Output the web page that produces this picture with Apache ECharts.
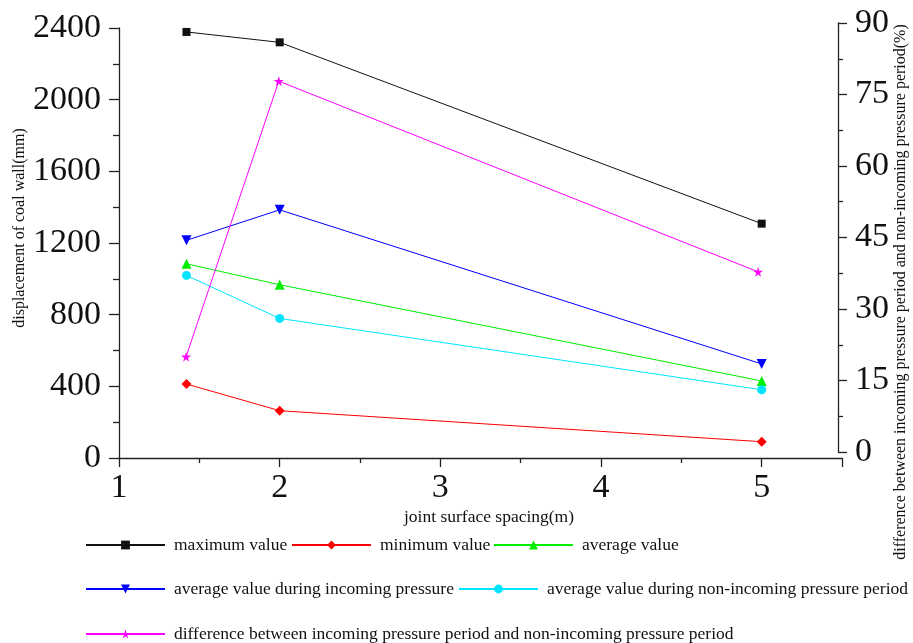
<!DOCTYPE html>
<html>
<head>
<meta charset="utf-8">
<script src="https://cdn.jsdelivr.net/npm/echarts@6/dist/echarts.min.js"></script>
<style>
html,body{margin:0;padding:0;background:#fff;}
#c{width:913px;height:643px;}
</style>
</head>
<body>
<div id="c"></div>
<script>
var spacing = [1.42, 2, 5];
var maxValue = [2378, 2320, 1308];
var minValue = [413, 264, 91];
var avgValue = [1084, 967, 430];
var avgIncoming = [1215, 1385, 525];
var avgNonIncoming = [1019, 779, 381];
var diffPercent = [20.0, 77.8, 37.8];
var xTicks = [1, 2, 3, 4, 5];
var leftTicks = [0, 400, 800, 1200, 1600, 2000, 2400];
var rightTicks = [0, 15, 30, 45, 60, 75, 90];

var names = [
  'maximum value',
  'minimum value',
  'average value',
  'average value during incoming pressure',
  'average value during non-incoming pressure period',
  'difference between incoming pressure period and non-incoming pressure period'
];

var FONT = "'Liberation Serif', 'Times New Roman', serif";
var STAR = 'path://M50,0 L61,35 L98,35 L68,57 L79,91 L50,70 L21,91 L32,57 L2,35 L39,35 Z';

function pairs(ys) { return spacing.map(function (x, i) { return [x, ys[i]]; }); }

function mkSeries(name, ys, color, symbol, size, rotate, xi, yi) {
  return {
    name: name, type: 'line', xAxisIndex: xi, yAxisIndex: yi,
    data: pairs(ys), symbol: symbol, symbolSize: size, symbolRotate: rotate || 0,
    showAllSymbol: true, animation: false,
    lineStyle: { color: color, width: 1 },
    itemStyle: { color: color, borderWidth: 0 }
  };
}

var chart = echarts.init(document.getElementById('c'), null, { renderer: 'canvas' });

var axisLine = { show: true, lineStyle: { color: '#222', width: 1.3 } };

function legendAt(name, left, cy) {
  return {
    data: [name], left: left, top: cy - 9, padding: 0, orient: 'horizontal',
    itemWidth: 79, itemHeight: 11, selectedMode: false,
    textStyle: { fontFamily: FONT, fontSize: 17.5, color: '#111', padding: [0, 0, 0, 4] }
  };
}

var option = {
  backgroundColor: '#fff',
  animation: false,
  grid: [
    { left: 119, right: 71, top: 28, bottom: 185 },
    { left: 119, right: 75, top: 23, bottom: 191 }
  ],
  xAxis: [
    {
      type: 'value', gridIndex: 0, min: 1, max: 5.5, interval: 1,
      axisLine: axisLine,
      axisTick: { show: true, inside: false, length: 9, lineStyle: { color: '#222', width: 1.3 } },
      minorTick: { show: true, splitNumber: 2, length: 5, lineStyle: { color: '#222', width: 1.3 } },
      splitLine: { show: false }, minorSplitLine: { show: false },
      axisLabel: {
        margin: 13, fontFamily: FONT, fontSize: 34, color: '#111',
        formatter: function (v) { return xTicks.indexOf(v) >= 0 ? String(v) : ''; }
      }
    },
    { type: 'value', gridIndex: 1, min: 1, max: 5.5, show: false }
  ],
  yAxis: [
    {
      type: 'value', gridIndex: 0, position: 'left', min: 0, max: 2400, interval: 400,
      axisLine: axisLine,
      axisTick: { show: true, inside: false, length: 10, lineStyle: { color: '#222', width: 1.3 } },
      minorTick: { show: true, splitNumber: 2, length: 6, lineStyle: { color: '#222', width: 1.3 } },
      splitLine: { show: false },
      axisLabel: {
        margin: 18, fontFamily: FONT, fontSize: 34, color: '#111',
        formatter: function (v) { return leftTicks.indexOf(v) >= 0 ? String(v) : ''; }
      }
    },
    {
      type: 'value', gridIndex: 1, position: 'right', min: 0, max: 90, interval: 15,
      axisLine: axisLine,
      axisTick: { show: true, inside: false, length: 9, lineStyle: { color: '#222', width: 1.3 } },
      minorTick: { show: true, splitNumber: 2, length: 5, lineStyle: { color: '#222', width: 1.3 } },
      splitLine: { show: false },
      axisLabel: {
        margin: 17, fontFamily: FONT, fontSize: 34, color: '#111',
        formatter: function (v) { return rightTicks.indexOf(v) >= 0 ? String(v) : ''; }
      }
    }
  ],
  legend: [
    legendAt(names[0], 85, 545),
    legendAt(names[1], 291, 545),
    legendAt(names[2], 493, 545),
    legendAt(names[3], 85, 589),
    legendAt(names[4], 458, 589),
    legendAt(names[5], 85, 634)
  ],
  graphic: [
    {
      type: 'text', x: 19.5, y: 228, rotation: Math.PI / 2,
      style: { text: 'displacement of coal wall(mm)', font: '16px ' + FONT, fill: '#111', align: 'center', verticalAlign: 'middle' }
    },
    {
      type: 'text', x: 901, y: 292, rotation: Math.PI / 2,
      style: { text: 'difference between incoming pressure period and non-incoming pressure period(%)', font: '16px ' + FONT, fill: '#111', align: 'center', verticalAlign: 'middle' }
    },
    {
      type: 'text', x: 489, y: 517,
      style: { text: 'joint surface spacing(m)', font: '17.5px ' + FONT, fill: '#111', align: 'center', verticalAlign: 'middle' }
    }
  ],
  series: [
    mkSeries(names[0], maxValue, '#111111', 'rect', 8, 0, 0, 0),
    mkSeries(names[1], minValue, '#ff0000', 'diamond', 10, 0, 0, 0),
    mkSeries(names[2], avgValue, '#00ee00', 'triangle', 10, 0, 0, 0),
    mkSeries(names[3], avgIncoming, '#0000ff', 'triangle', 10, 180, 0, 0),
    mkSeries(names[4], avgNonIncoming, '#00e5ff', 'circle', 9, 0, 0, 0),
    mkSeries(names[5], diffPercent, '#ff00ff', STAR, 10, 0, 1, 1)
  ]
};
chart.setOption(option);
</script>
</body>
</html>
